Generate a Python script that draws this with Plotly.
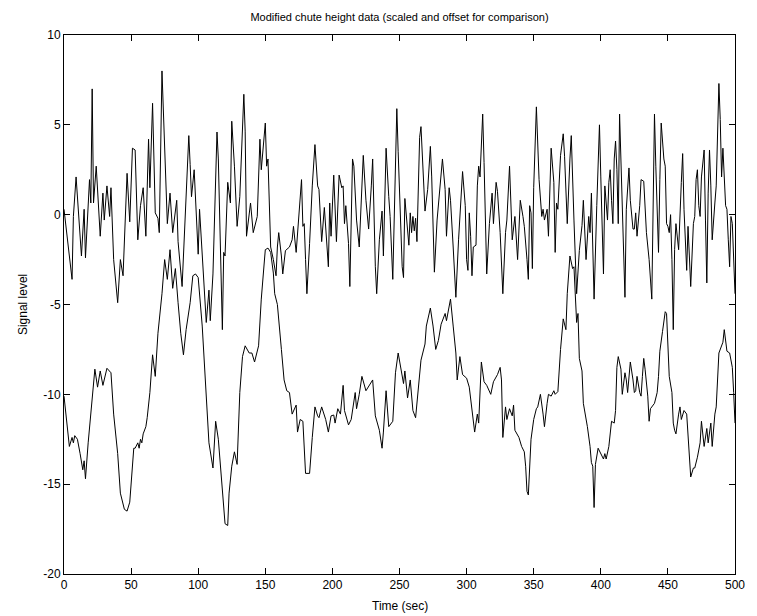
import plotly.graph_objects as go

# Upper trace: chute height signal (time in seconds, level)
upper_time = [0, 3, 6, 7, 9, 13, 15, 16, 19, 20, 21, 22, 24, 27, 29, 30, 32, 34, 35, 37,
              40, 42, 44, 47, 49, 51, 53, 55, 57, 59, 61, 63, 64, 66, 68, 70, 71, 73, 77, 79,
              81, 84, 85, 88, 93, 94, 95, 97, 100, 101, 103, 106, 108, 109, 111, 114, 115, 118, 119, 120,
              122, 124, 125, 127, 129, 131, 134, 135, 136, 139, 141, 144, 146, 147, 150, 151, 152, 154, 156, 158,
              159, 160, 162, 163, 165, 168, 170, 171, 173, 175, 177, 178, 179, 180, 181, 183, 185, 187, 189, 190,
              192, 194, 195, 197, 198, 199, 201, 203, 205, 207, 208, 209, 210, 212, 213, 215, 216, 218, 220, 222,
              223, 225, 227, 229, 230, 232, 233, 235, 237, 238, 240, 242, 243, 245, 247, 248, 249, 250, 252, 253,
              254, 257, 258, 259, 260, 261, 262, 263, 264, 265, 266, 268, 269, 271, 273, 274, 275, 276, 278, 280,
              282, 284, 285, 287, 288, 290, 292, 294, 296, 297, 299, 300, 301, 302, 303, 304, 305, 307, 308, 309,
              310, 312, 313, 314, 315, 317, 319, 320, 322, 323, 325, 327, 329, 330, 332, 334, 335, 336, 338, 340,
              342, 343, 345, 346, 347, 348, 349, 350, 352, 353, 354, 356, 357, 358, 360, 361, 363, 365, 366, 367,
              368, 370, 371, 372, 373, 375, 377, 378, 380, 382, 384, 386, 387, 389, 391, 392, 393, 395, 397, 398,
              399, 400, 402, 403, 404, 405, 406, 407, 408, 409, 410, 411, 412, 413, 414, 415, 417, 418, 419, 421,
              422, 424, 425, 426, 427, 429, 430, 432, 434, 436, 438, 439, 440, 441, 443, 444, 445, 447, 448, 449,
              450, 451, 452, 453, 454, 455, 456, 458, 459, 460, 461, 462, 464, 465, 466, 467, 469, 470, 471, 472,
              473, 474, 475, 477, 478, 479, 480, 481, 482, 483, 485, 486, 488, 489, 490, 491, 493, 494, 495, 496,
              497, 498, 500]
upper_level = [0.3, -1.5, -3.6, -0.1, 2.1, -2.3, 0.3, -2.4, 1.95, 0.65, 7.0, 0.65, 2.7, -1.2, 1.2, -0.3, 1.6, -0.1, 1.5, -2.5,
               -4.9, -2.5, -3.4, 2.3, -0.4, 3.7, 3.6, -1.4, 0.5, 1.5, -1.2, 4.2, 1.5, 6.2, 0.1, -0.2, -1.0, 8.0, -0.5, 1.2,
               -1.0, 0.8, -1.5, -4.0, 4.4, 2.8, 1.0, 2.5, -2.2, 0.3, -2.1, -6.0, -4.2, -5.9, -3.3, 4.6, 3.1, -6.4, -2.1, -2.3,
               1.8, 0.65, 5.2, 2.7, -0.65, 1.0, 6.7, 4.65, -1.2, 0.65, -1.0, -0.1, 4.2, 2.5, 5.1, 2.7, 3.1, -1.8, -2.5, -3.4,
               -1.8, -1.0, -2.3, -3.3, -2.0, -1.8, -1.4, -0.65, -2.1, 0.1, 1.95, -0.65, -0.5, -2.5, -4.4, -1.6, 1.6, 3.9, 1.6, 1.4,
               -1.5, 0.4, -0.65, -2.9, 0.65, -1.2, 2.2, -1.5, 2.2, 1.5, 1.6, -0.5, 0.5, -1.6, -4.0, 3.1, 2.7, -0.3, -1.8, 2.3,
               3.3, 0.8, -0.8, 1.6, 3.1, -2.9, -4.4, -1.4, 0.2, -2.3, 3.7, 1.0, -0.1, -3.6, 3.8, 5.9, 3.5, 1.2, -2.9, -3.5,
               0.9, -1.7, 0.1, -1.0, -0.1, -0.9, -0.2, -1.5, 1.6, 4.3, 4.9, 2.1, 0.2, 1.4, 3.8, 2.1, -0.3, -3.2, -0.3, 1.2,
               3.1, 1.4, -1.2, 1.5, 0.8, -1.8, -4.6, -1.4, 1.0, 2.4, 0.5, -2.5, -3.1, 0.1, -1.2, -3.4, -1.8, -1.7, 1.6, 2.7,
               2.1, 5.6, 2.9, 0.3, -3.3, -0.5, 1.2, -0.5, 1.8, 1.3, -1.0, -4.4, -1.0, -0.3, 2.7, -1.4, -0.65, -0.1, -2.5, 0.8,
               -0.1, -0.65, -2.5, -3.6, 0.5, 0.1, -3.0, 1.5, 6.0, 4.2, 1.95, -0.1, 0.3, -0.3, 0.3, -1.2, 3.7, 1.8, -2.1, 0.65,
               0.3, 3.3, 3.8, 4.5, 3.25, -0.5, 3.1, 4.4, -0.3, -4.4, -2.0, -0.6, 0.8, -2.5, -0.1, -1.0, 1.2, -4.7, 0.5, 3.1,
               5.0, 2.1, -3.3, 1.6, 0.8, -0.3, 1.8, 2.5, 0.8, -0.5, 3.1, 4.1, 2.5, -0.5, 5.6, 2.7, -1.8, -4.6, 0.3, 2.6,
               0.8, -0.8, -0.8, 0.1, -1.2, 0.5, 1.95, 1.86, -1.0, -2.5, -4.7, 1.2, 5.6, 2.7, -2.1, 1.95, 5.1, 3.1, 2.7, -0.5,
               -0.65, -1.0, 0.0, -2.5, -6.4, -1.95, -0.5, -1.95, 0.5, 1.8, 3.4, 0.3, -3.1, -0.65, -2.3, -4.0, -0.5, -0.1, 1.95, 2.5,
               0.5, -0.1, 2.1, 3.6, -0.3, -3.8, 1.2, 3.6, 1.6, -1.4, 0.65, 1.6, 7.3, 5.3, 2.1, 3.7, 0.5, 0.3, -1.4, -2.9,
               -0.1, -0.5, -4.4]

# Lower trace: modified signal, offset downwards
lower_time = [0, 2, 4, 6, 7, 8, 10, 12, 13, 14, 15, 16, 18, 20, 23, 25, 27, 29, 31, 32,
              35, 37, 40, 42, 45, 47, 49, 51, 52, 53, 55, 56, 57, 58, 59, 61, 62, 64, 66, 68,
              70, 73, 75, 77, 79, 81, 83, 85, 87, 89, 91, 94, 96, 98, 100, 103, 106, 108, 111, 113,
              115, 118, 120, 122, 123, 125, 127, 129, 131, 133, 135, 138, 140, 142, 145, 147, 150, 152, 154, 156,
              157, 159, 160, 162, 164, 166, 168, 170, 173, 174, 176, 178, 180, 183, 185, 187, 189, 190, 192, 195,
              197, 199, 201, 202, 204, 206, 208, 209, 212, 214, 217, 218, 220, 222, 225, 228, 230, 232, 235, 237,
              238, 240, 242, 245, 247, 249, 251, 253, 254, 256, 258, 260, 262, 264, 266, 269, 270, 273, 275, 277,
              279, 281, 284, 285, 287, 288, 290, 292, 293, 295, 297, 300, 302, 304, 305, 306, 308, 309, 311, 313,
              315, 318, 320, 323, 325, 326, 327, 329, 330, 332, 334, 335, 336, 338, 339, 341, 343, 344, 345, 346,
              347, 348, 350, 352, 353, 355, 357, 358, 360, 361, 363, 365, 366, 368, 370, 372, 374, 375, 377, 379,
              380, 381, 382, 383, 384, 386, 387, 390, 392, 393, 394, 395, 396, 398, 400, 402, 403, 404, 406, 407,
              408, 410, 411, 412, 413, 415, 416, 418, 419, 420, 422, 424, 425, 426, 427, 429, 430, 431, 432, 433,
              435, 436, 437, 440, 442, 443, 444, 446, 448, 449, 450, 451, 453, 454, 455, 456, 458, 459, 460, 461,
              462, 464, 465, 466, 467, 469, 470, 472, 474, 475, 477, 479, 480, 482, 483, 485, 486, 488, 489, 491,
              492, 493, 494, 496, 498, 499, 500]
lower_level = [-10.1, -11.5, -12.9, -12.4, -12.7, -12.3, -12.5, -13.3, -13.8, -14.2, -13.7, -14.7, -12.7, -10.9, -8.6, -9.6, -8.7, -9.5, -8.8, -8.55,
               -8.8, -11.1, -13.3, -15.5, -16.4, -16.5, -16.0, -13.6, -13.0, -13.0, -12.7, -13.0, -12.5, -12.7, -12.2, -11.8, -11.3, -9.9, -7.8, -9.0,
               -6.6, -4.4, -2.5, -3.6, -1.95, -4.1, -3.0, -4.9, -6.6, -7.8, -6.4, -4.9, -3.4, -3.3, -3.5, -6.2, -9.9, -12.7, -14.1, -11.5,
               -12.5, -15.5, -17.2, -17.3, -15.5, -14.0, -13.2, -13.9, -9.9, -7.9, -7.3, -7.7, -7.7, -8.2, -7.3, -4.7, -1.95, -1.86, -2.1, -3.25,
               -4.4, -5.0, -6.0, -7.5, -9.2, -9.8, -9.9, -11.1, -10.6, -12.1, -11.4, -11.5, -14.4, -14.4, -12.4, -10.7, -11.2, -11.3, -10.7, -11.4,
               -12.1, -11.2, -11.15, -11.6, -10.8, -11.1, -9.5, -10.9, -11.7, -11.4, -9.9, -10.8, -10.0, -9.0, -9.8, -9.4, -9.2, -11.2, -12.0, -13.0,
               -12.1, -9.8, -11.8, -11.5, -8.8, -7.7, -8.5, -9.4, -8.7, -10.2, -9.2, -10.9, -11.3, -9.6, -8.1, -7.2, -6.2, -5.2, -6.2, -7.5,
               -7.0, -6.1, -5.5, -5.9, -5.2, -4.7, -6.2, -7.7, -9.2, -7.9, -8.9, -9.1, -9.6, -10.9, -11.2, -12.1, -11.1, -11.6, -8.2, -9.3,
               -9.5, -10.0, -9.3, -8.9, -8.5, -9.2, -12.4, -10.7, -11.4, -10.8, -11.2, -10.6, -12.0, -12.3, -12.4, -12.9, -13.2, -14.0, -15.4, -15.6,
               -14.0, -12.5, -11.4, -10.8, -10.7, -10.0, -11.1, -11.8, -10.5, -10.0, -10.1, -9.8, -10.0, -9.85, -7.5, -5.8, -6.4, -4.4, -2.3, -3.0,
               -2.9, -4.6, -6.0, -5.5, -8.0, -8.7, -10.5, -11.8, -12.9, -13.8, -14.0, -16.3, -13.9, -13.0, -13.3, -13.6, -13.3, -13.6, -12.9, -12.1,
               -11.5, -11.6, -10.9, -8.5, -7.9, -8.6, -10.0, -8.8, -9.2, -9.9, -8.2, -9.2, -9.9, -9.8, -9.0, -9.9, -10.1, -9.0, -8.0, -8.6,
               -10.1, -11.5, -10.8, -10.5, -9.9, -9.0, -7.6, -6.5, -5.4, -5.5, -7.7, -9.0, -9.9, -11.6, -12.0, -12.2, -11.1, -10.7, -11.4, -11.1,
               -10.9, -11.1, -12.2, -13.7, -14.6, -14.1, -14.1, -13.5, -12.7, -11.5, -12.9, -11.9, -12.7, -11.6, -12.9, -11.1, -10.7, -7.7, -7.5, -7.1,
               -6.4, -7.0, -7.6, -7.7, -8.5, -9.9, -11.6]

x_ticks = [0, 50, 100, 150, 200, 250, 300, 350, 400, 450, 500]
y_ticks = [-20, -15, -10, -5, 0, 5, 10]
y_tick_labels = ["-20", "-15", "-10", "-5", "0", "5", "10"]

FONT = "Liberation Sans, Arial, Helvetica, sans-serif"

fig = go.Figure()
for t, v in ((upper_time, upper_level), (lower_time, lower_level)):
    fig.add_trace(go.Scatter(x=t, y=v, mode="lines",
                             line=dict(color="#000000", width=1),
                             showlegend=False, hoverinfo="skip"))

axis_common = dict(
    showgrid=False, zeroline=False, showline=True, linecolor="#000000",
    linewidth=1, mirror="ticks", ticks="inside", ticklen=6, tickwidth=1,
    tickcolor="#000000", tickfont=dict(family=FONT, size=12, color="#000000"),
)

fig.update_layout(
    width=757, height=616,
    margin=dict(l=64, r=12, t=35, b=42),
    paper_bgcolor="#ffffff", plot_bgcolor="#ffffff",
    font=dict(family=FONT, size=12, color="#000000"),
    title=dict(text="Modified chute height data (scaled and offset for comparison)",
               x=0.5, xref="paper", xanchor="center",
               y=1 - 17 / 616, yref="container", yanchor="middle",
               font=dict(family=FONT, size=11, color="#000000")),
    xaxis=dict(range=[0, 500], tickvals=x_ticks, **axis_common),
    yaxis=dict(range=[-20, 10], tickvals=y_ticks, ticktext=y_tick_labels, **axis_common),
    annotations=[
        dict(text="Time (sec)", xref="paper", yref="paper", x=0.5, y=-32 / 539,
             xanchor="center", yanchor="middle", showarrow=False,
             font=dict(family=FONT, size=12, color="#000000")),
        dict(text="Signal level", xref="paper", yref="paper", x=-42 / 681, y=0.5,
             xanchor="center", yanchor="middle", textangle=-90, showarrow=False,
             font=dict(family=FONT, size=12, color="#000000")),
    ],
)

fig.write_html("out.html")
